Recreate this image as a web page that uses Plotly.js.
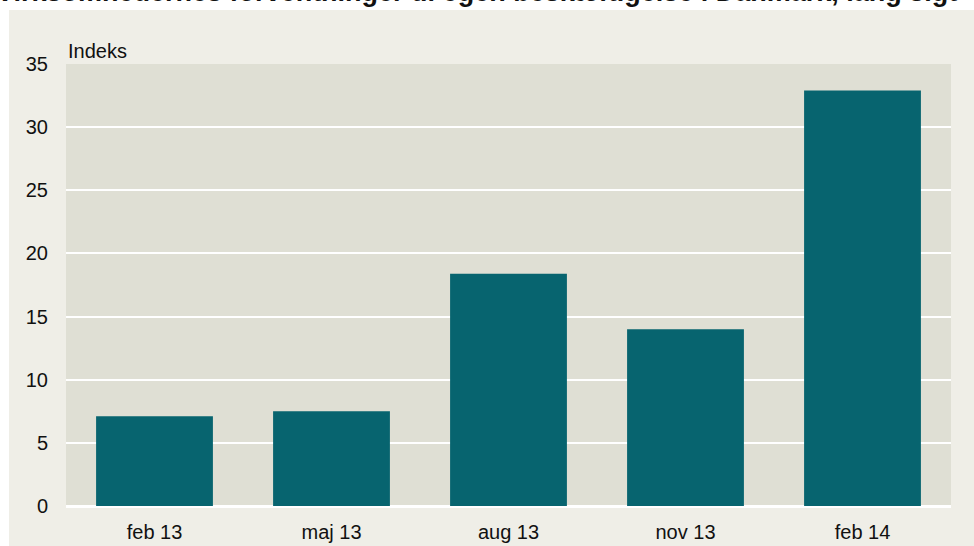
<!DOCTYPE html>
<html>
<head>
<meta charset="utf-8">
<script src="https://cdn.plot.ly/plotly-3.0.1.min.js"></script>
<style>
html,body{margin:0;padding:0;background:#ffffff;width:974px;height:546px;overflow:hidden;}
#bgpanel{position:absolute;left:9px;top:10px;width:965px;height:536px;background:#efeee7;}
#chart{position:absolute;left:0;top:0;width:974px;height:546px;}
</style>
</head>
<body>
<div id="bgpanel"></div>
<div id="chart"></div>
<script>
const categories = ["feb 13", "maj 13", "aug 13", "nov 13", "feb 14"];
const values = [7.1, 7.5, 18.4, 14.0, 32.9];
const yTicks = [0, 5, 10, 15, 20, 25, 30, 35];
const chartTitle = "Virksomhedernes forventninger til egen beskæftigelse i Danmark, lang sigt";
const yUnit = "Indeks";

const font = "Liberation Sans, Arial, sans-serif";

const trace = {
  type: "bar",
  x: categories,
  y: values,
  marker: {color: "#07646f", line: {width: 0}},
  hoverinfo: "x+y"
};

const layout = {
  width: 974,
  height: 546,
  paper_bgcolor: "rgba(0,0,0,0)",
  plot_bgcolor: "#dfdfd4",
  margin: {l: 66, r: 23, t: 64, b: 40},
  bargap: 0.34,
  showlegend: false,
  font: {family: font, size: 20, color: "#111111"},
  xaxis: {
    type: "category",
    showgrid: false,
    zeroline: false,
    showline: false,
    ticks: "outside",
    ticklen: 8,
    tickcolor: "rgba(0,0,0,0)",
    tickfont: {family: font, size: 20, color: "#111111"}
  },
  yaxis: {
    range: [0, 35],
    tickvals: yTicks,
    ticktext: yTicks.map(String),
    showgrid: true,
    gridcolor: "#ffffff",
    gridwidth: 2,
    zeroline: true,
    zerolinecolor: "#ffffff",
    zerolinewidth: 3,
    showline: false,
    ticks: "outside",
    ticklen: 13,
    tickcolor: "rgba(0,0,0,0)",
    tickfont: {family: font, size: 20, color: "#111111"}
  },
  annotations: [
    {
      text: yUnit,
      xref: "paper", yref: "paper",
      x: 0, y: 1,
      xanchor: "left", yanchor: "bottom",
      xshift: 0, yshift: 0,
      showarrow: false,
      font: {family: font, size: 20, color: "#111111"}
    },
    {
      text: "<b>" + chartTitle + "</b>",
      xref: "paper", yref: "paper",
      x: 1, y: 1,
      xanchor: "right", yanchor: "middle",
      xshift: 8, yshift: 72,
      showarrow: false,
      font: {family: font, size: 27, color: "#111111"}
    }
  ]
};

Plotly.newPlot("chart", [trace], layout, {displayModeBar: false, staticPlot: true});
</script>
</body>
</html>
